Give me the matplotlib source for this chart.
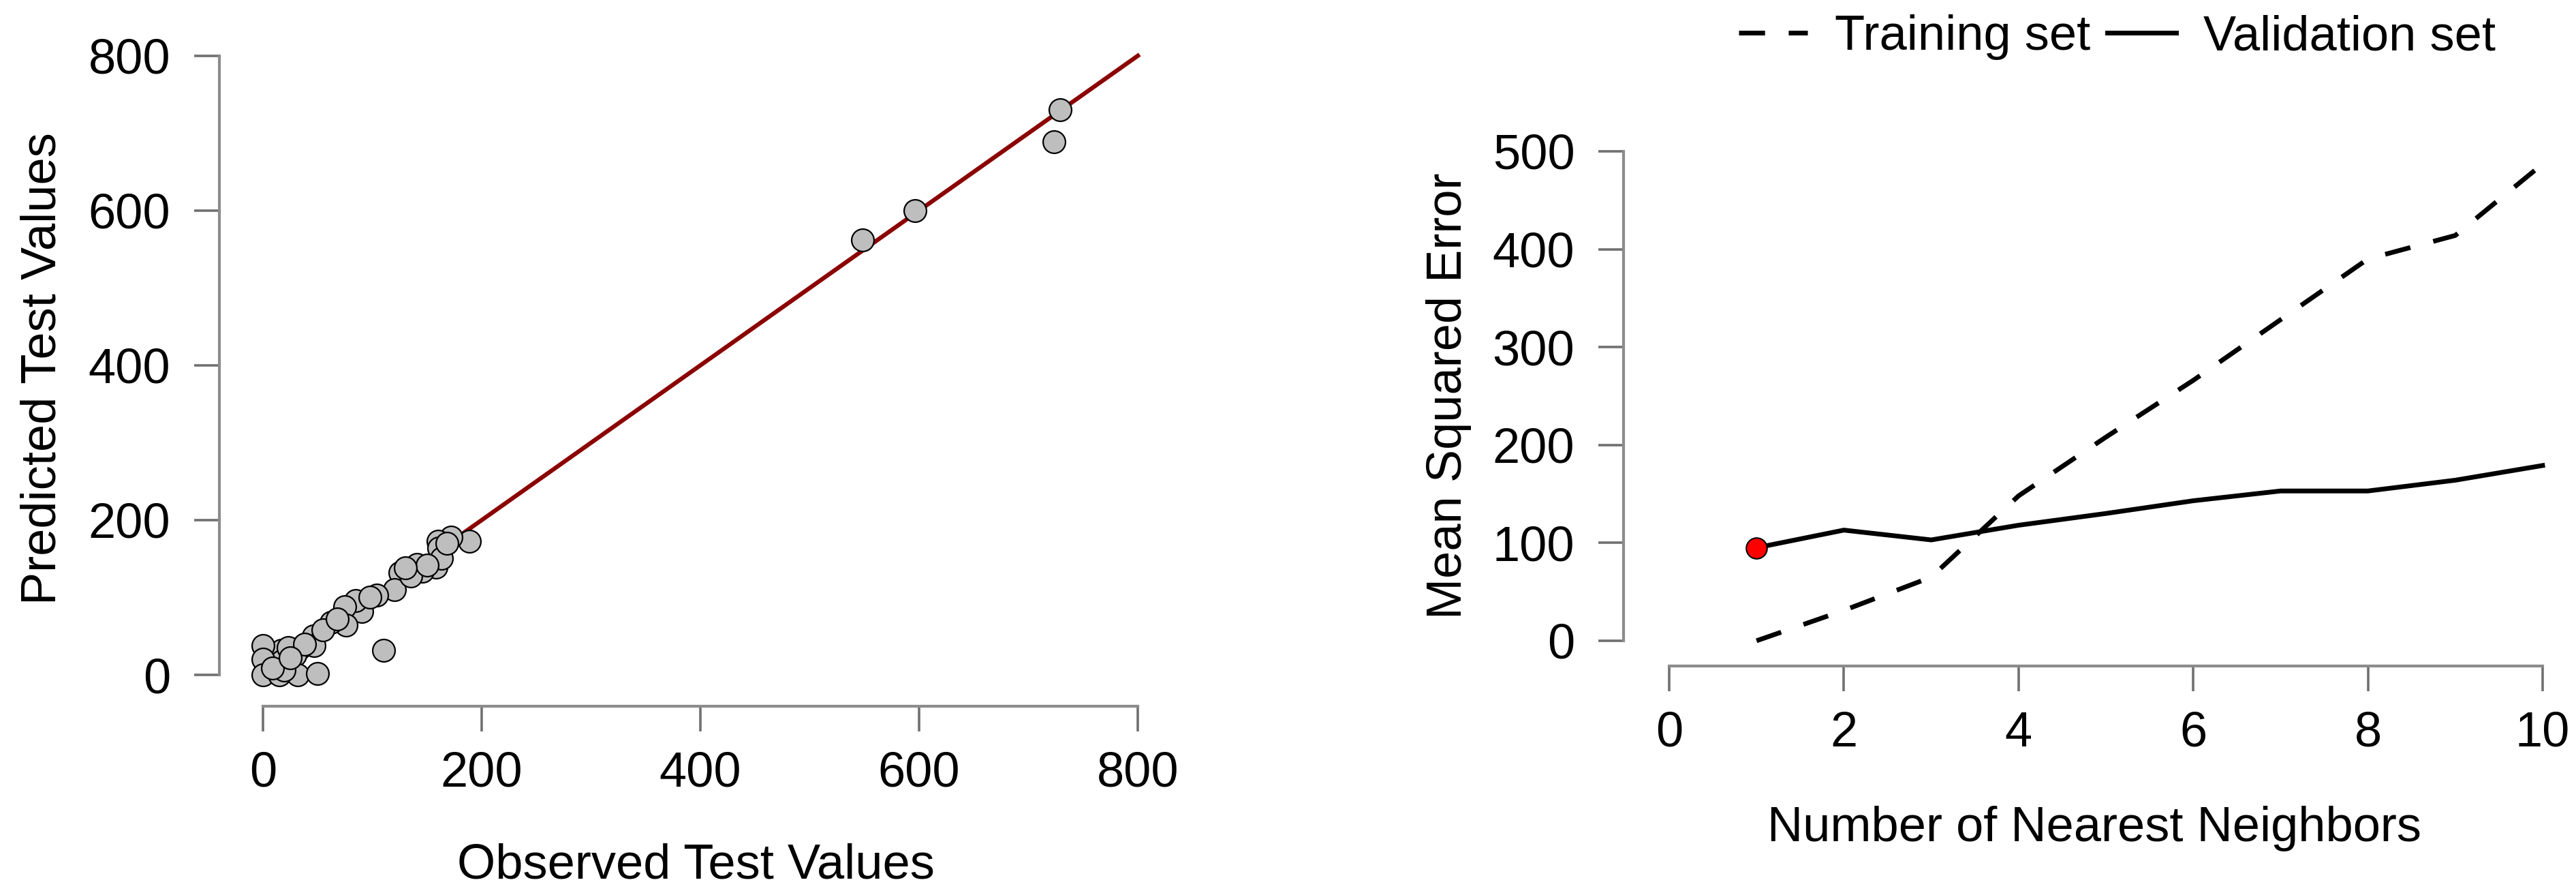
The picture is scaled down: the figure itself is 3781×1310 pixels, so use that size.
import matplotlib
matplotlib.use("Agg")
import matplotlib.pyplot as plt

plt.rcParams['font.family'] = ['Liberation Sans', 'DejaVu Sans']

# left panel: observed vs predicted test values
observed = [189, 172, 160, 161, 158, 163, 141, 146, 125, 120, 104, 90, 85, 75, 76, 62,
            46, 47, 34, 29, 17, 17, 0, 0, 0, 15, 32, 50, 110, 19, 9, 23,
            55, 68, 98, 135, 150, 168, 38, 25, 130,
            548, 596, 723, 729]
predicted = [173, 178, 173, 164, 139, 151, 143, 134, 132, 110, 103, 82, 96, 88, 64, 68,
             50, 38, 35, 26, 32, 18, 38, 20, 0, 0, 0, 2, 32, 6, 9, 35,
             58, 72, 100, 128, 142, 170, 40, 22, 138,
             562, 600, 689, 730]
ref_line = [0, 800]
left_ticks = [0, 200, 400, 600, 800]

# right panel: error vs number of neighbours
k_values = [1, 2, 3, 4, 5, 6, 7, 8, 9, 10]
train_mse = [0, 31, 65, 148, 208, 266, 328, 390, 414, 487]
valid_mse = [95, 113, 103, 118, 130, 143, 153, 153, 164, 179]
k_ticks = [0, 2, 4, 6, 8, 10]
mse_ticks = [0, 100, 200, 300, 400, 500]

W, H = 3781, 1310
FS = 52

fig = plt.figure(figsize=(W / 100, H / 100), dpi=100)
ax1 = fig.add_axes([322 / W, 1 - 1036 / H, (1721 - 322) / W, (1036 - 46) / H])
ax2 = fig.add_axes([2383 / W, 1 - 977 / H, (3764 - 2383) / W, (977 - 185) / H])


def r_style(ax, xb, yb):
    for s in ['top', 'right']:
        ax.spines[s].set_visible(False)
    ax.spines['bottom'].set_bounds(*xb)
    ax.spines['left'].set_bounds(*yb)
    for s in ['left', 'bottom']:
        ax.spines[s].set_color('#8c8c8c')
        ax.spines[s].set_linewidth(3)
    ax.tick_params(length=26.5, width=2.6, color='#707070', labelsize=FS, labelcolor='black')
    ax.tick_params(axis='x', pad=21)
    ax.tick_params(axis='y', pad=25)


# left
ax1.plot(ref_line, ref_line, color='#8b0000', lw=4.5, zorder=1)
ax1.scatter(observed, predicted, s=560, c='#bebebe', edgecolors='black', linewidths=1.6, zorder=2)
ax1.set_xlim(-39.9, 831.7)
ax1.set_ylim(-40.5, 831.5)
ax1.set_xticks(left_ticks)
ax1.set_yticks(left_ticks)
r_style(ax1, (0, 800), (0, 800))
ax1.set_xlabel('Observed Test Values', fontsize=FS)
ax1.set_ylabel('Predicted Test Values', fontsize=FS)
ax1.xaxis.set_label_coords(0.5, -0.203)
ax1.yaxis.set_label_coords(-0.161, 0.5)

# right
ax2.plot(k_values, train_mse, color='black', lw=5, dashes=(5.5, 5), label='Training set')
ax2.plot(k_values, valid_mse, color='black', lw=5, label='Validation set')
ax2.plot(k_values[0], valid_mse[0], 'o', ms=22, mfc='red', mec='black', mew=1.5, zorder=3)
ax2.set_xlim(-0.523, 10.25)
ax2.set_ylim(-25.8, 525.7)
ax2.set_xticks(k_ticks)
ax2.set_yticks(mse_ticks)
r_style(ax2, (0, 10), (0, 500))
ax2.set_xlabel('Number of Nearest Neighbors', fontsize=FS)
ax2.set_ylabel('Mean Squared Error', fontsize=FS)
ax2.xaxis.set_label_coords(0.5, -0.259)
ax2.yaxis.set_label_coords(-0.1615, 0.5)

fig.legend(loc='center', bbox_to_anchor=(0.8219, 1 - 55 / H), ncol=2, frameon=False,
           fontsize=FS, handlelength=1.4, handletextpad=0.55, columnspacing=0.35,
           borderpad=0.1)

fig.savefig('out.png', dpi=100)
